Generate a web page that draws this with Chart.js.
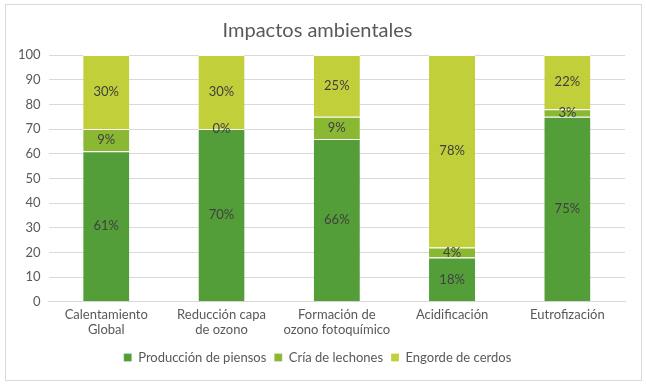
<!DOCTYPE html>
<html>
<head>
<meta charset="utf-8">
<script src="https://cdn.jsdelivr.net/npm/chart.js@4/dist/chart.umd.min.js"></script>
<style>
  body { margin: 0; background: #fff; }
  #wrap { position: absolute; left: 5px; top: 4px; width: 635px; height: 375px; border: 1px solid #d9d9d9; }
</style>
</head>
<body>
<div id="wrap"><canvas id="chart" width="635" height="375"></canvas></div>
<script>
// datos del gráfico
const categories = [["Calentamiento", "Global"], ["Reducción capa", "de ozono"], ["Formación de", "ozono fotoquímico"], "Acidificación", "Eutrofización"];
const piensos = [61, 70, 66, 18, 75];
const lechones = [9, 0, 9, 4, 3];
const engorde = [30, 30, 25, 78, 22];
const seriesNames = ["Producción de piensos", "Cría de lechones", "Engorde de cerdos"];

const FONT = "Lato, 'Open Sans', sans-serif";
const TEXT = "#595959";

// etiquetas de porcentaje en el centro de cada segmento
const barLabels = {
  id: "barLabels",
  afterDatasetsDraw(chart) {
    const ctx = chart.ctx;
    ctx.save();
    ctx.font = "13px " + FONT;
    ctx.fillStyle = "#404040";
    ctx.textAlign = "center";
    ctx.textBaseline = "middle";
    chart.data.datasets.forEach((ds, i) => {
      chart.getDatasetMeta(i).data.forEach((bar, j) => {
        const y = (bar.y + bar.base) / 2;
        ctx.fillText(ds.data[j] + "%", bar.x, y);
      });
    });
    ctx.restore();
  },
};

new Chart(document.getElementById("chart"), {
  type: "bar",
  data: {
    labels: categories,
    datasets: [
      { label: seriesNames[0], data: piensos, backgroundColor: "#549e39" },
      { label: seriesNames[1], data: lechones, backgroundColor: "#8ab833" },
      { label: seriesNames[2], data: engorde, backgroundColor: "#c0cf3a" },
    ].map((d) => ({ ...d, borderColor: "#ffffff", borderWidth: { top: 1 }, borderSkipped: false, categoryPercentage: 1, barPercentage: 0.4 })),
  },
  options: {
    responsive: false,
    animation: false,
    layout: { padding: { left: 4, right: 16, top: 2, bottom: 6 } },
    plugins: {
      title: { display: true, text: "Impactos ambientales", color: TEXT, font: { family: FONT, size: 20, weight: "normal" }, padding: { top: 12, bottom: 12 } },
      legend: {
        position: "bottom",
        labels: { color: TEXT, font: { family: FONT, size: 13 }, boxWidth: 8, boxHeight: 8, padding: 8 },
      },
      tooltip: { enabled: false },
    },
    scales: {
      x: {
        stacked: true,
        grid: { display: false, drawTicks: false },
        border: { color: "#d9d9d9" },
        ticks: { color: TEXT, font: { family: FONT, size: 13 }, maxRotation: 0, padding: 5 },
      },
      y: {
        stacked: true,
        min: 0,
        max: 100,
        ticks: { stepSize: 10, color: TEXT, font: { family: FONT, size: 13 }, padding: 8 },
        grid: { color: "#d9d9d9", drawTicks: false },
        border: { display: false },
      },
    },
  },
  plugins: [barLabels],
});
</script>
</body>
</html>
